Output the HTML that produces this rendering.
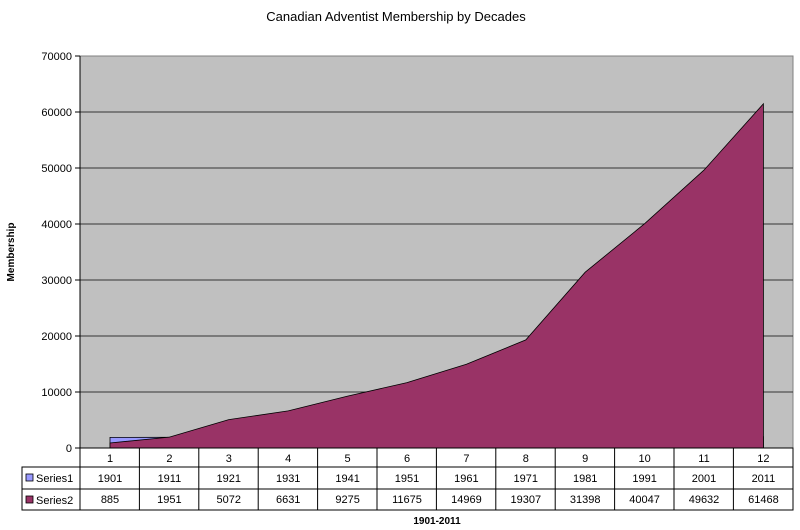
<!DOCTYPE html>
<html><head><meta charset="utf-8"><style>body{margin:0;background:#fff}svg{display:block}</style></head>
<body>
<svg width="800" height="530" xmlns="http://www.w3.org/2000/svg" font-family="Liberation Sans, sans-serif">
<rect width="800" height="530" fill="#fff"/>
<text x="396" y="21" text-anchor="middle" font-size="13">Canadian Adventist Membership by Decades</text>
<rect x="80" y="56" width="713" height="392" fill="#c0c0c0" stroke="#808080"/>
<g stroke="#333" stroke-width="1">
<line x1="80" y1="392" x2="793" y2="392"/><line x1="80" y1="336" x2="793" y2="336"/>
<line x1="80" y1="280" x2="793" y2="280"/><line x1="80" y1="224" x2="793" y2="224"/>
<line x1="80" y1="168" x2="793" y2="168"/><line x1="80" y1="112" x2="793" y2="112"/>
</g>
<polygon points="110,448 110,437.4 169.4,437.3 228.8,437.2 288.2,437.1 347.6,437 407,436.9 466.4,436.9 525.8,436.8 585.2,436.8 644.6,436.7 704,436.7 763.4,436.7 763.4,448" fill="#9999ff" stroke="#000" stroke-width="0.8"/>
<polygon points="110,448 110,443 169.4,437.1 228.8,419.6 288.2,410.9 347.6,396.1 407,382.6 466.4,364.2 525.8,339.9 585.2,272.2 644.6,223.7 704,170.1 763.4,103.8 763.4,448" fill="#993366" stroke="#000" stroke-width="0.8"/>
<line x1="80" y1="56" x2="80" y2="448" stroke="#000"/>
<g stroke="#000"><line x1="75" y1="56" x2="80" y2="56"/><line x1="75" y1="112" x2="80" y2="112"/><line x1="75" y1="168" x2="80" y2="168"/><line x1="75" y1="224" x2="80" y2="224"/><line x1="75" y1="280" x2="80" y2="280"/><line x1="75" y1="336" x2="80" y2="336"/><line x1="75" y1="392" x2="80" y2="392"/><line x1="75" y1="448" x2="80" y2="448"/></g>
<g font-size="11" text-anchor="end">
<text x="72" y="60">70000</text><text x="72" y="116">60000</text><text x="72" y="172">50000</text><text x="72" y="228">40000</text><text x="72" y="284">30000</text><text x="72" y="340">20000</text><text x="72" y="396">10000</text><text x="72" y="452">0</text>
</g>
<text transform="translate(14,252) rotate(-90)" text-anchor="middle" font-size="10" font-weight="bold">Membership</text>
<g fill="none" stroke="#000">
<rect x="80" y="448" width="713" height="62"/>
<rect x="22" y="467" width="58" height="43"/>
<line x1="22" y1="489" x2="793" y2="489"/><line x1="80" y1="467" x2="793" y2="467"/>
</g>
<g stroke="#000">
<line x1="139.4" y1="448" x2="139.4" y2="510"/><line x1="198.8" y1="448" x2="198.8" y2="510"/><line x1="258.2" y1="448" x2="258.2" y2="510"/><line x1="317.6" y1="448" x2="317.6" y2="510"/><line x1="377" y1="448" x2="377" y2="510"/><line x1="436.4" y1="448" x2="436.4" y2="510"/><line x1="495.8" y1="448" x2="495.8" y2="510"/><line x1="555.2" y1="448" x2="555.2" y2="510"/><line x1="614.6" y1="448" x2="614.6" y2="510"/><line x1="674" y1="448" x2="674" y2="510"/><line x1="733.4" y1="448" x2="733.4" y2="510"/>
</g>
<rect x="26" y="474" width="7" height="7" fill="#9999ff" stroke="#000" stroke-width="0.8"/>
<rect x="26" y="496" width="7" height="7" fill="#993366" stroke="#000" stroke-width="0.8"/>
<g font-size="11"><text x="36" y="482">Series1</text><text x="36" y="504">Series2</text></g>
<g font-size="11" text-anchor="middle">
<text x="110" y="462">1</text><text x="169.4" y="462">2</text><text x="228.8" y="462">3</text><text x="288.2" y="462">4</text><text x="347.6" y="462">5</text><text x="407" y="462">6</text><text x="466.4" y="462">7</text><text x="525.8" y="462">8</text><text x="585.2" y="462">9</text><text x="644.6" y="462">10</text><text x="704" y="462">11</text><text x="763.4" y="462">12</text>
<text x="110" y="482">1901</text><text x="169.4" y="482">1911</text><text x="228.8" y="482">1921</text><text x="288.2" y="482">1931</text><text x="347.6" y="482">1941</text><text x="407" y="482">1951</text><text x="466.4" y="482">1961</text><text x="525.8" y="482">1971</text><text x="585.2" y="482">1981</text><text x="644.6" y="482">1991</text><text x="704" y="482">2001</text><text x="763.4" y="482">2011</text>
<text x="110" y="503">885</text><text x="169.4" y="503">1951</text><text x="228.8" y="503">5072</text><text x="288.2" y="503">6631</text><text x="347.6" y="503">9275</text><text x="407" y="503">11675</text><text x="466.4" y="503">14969</text><text x="525.8" y="503">19307</text><text x="585.2" y="503">31398</text><text x="644.6" y="503">40047</text><text x="704" y="503">49632</text><text x="763.4" y="503">61468</text>
</g>
<text x="437" y="524" text-anchor="middle" font-size="10" font-weight="bold">1901-2011</text>
</svg>
</body></html>
